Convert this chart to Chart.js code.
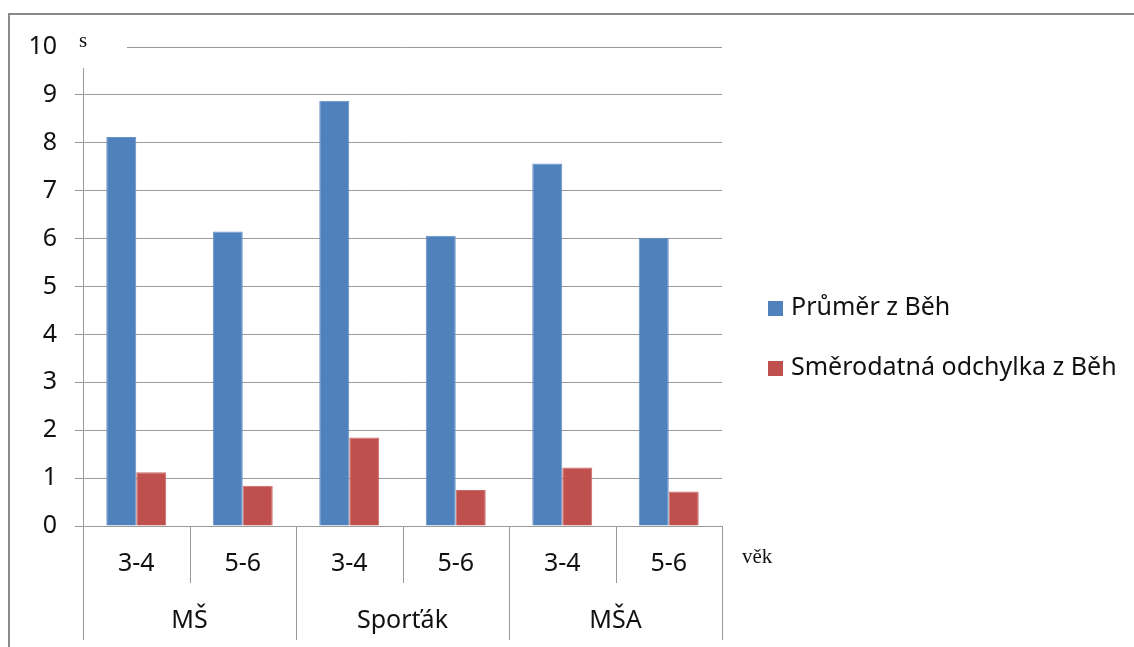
<!DOCTYPE html>
<html lang="cs">
<head>
<meta charset="utf-8">
<title>Běh – průměr a směrodatná odchylka</title>
<script src="https://cdn.jsdelivr.net/npm/chart.js@4/dist/chart.umd.min.js"></script>
<style>
  html, body { margin: 0; padding: 0; background: #fff; }
  #wrap { width: 1134px; height: 647px; position: relative; }
</style>
</head>
<body>
<div id="wrap"><canvas id="c" width="1134" height="647"></canvas></div>
<script>
// age groups (inner axis row) and schools (outer axis row)
const ageLabels = ['3-4', '5-6', '3-4', '5-6', '3-4', '5-6'];
const schoolLabels = ['MŠ', 'Sporťák', 'MŠA'];
// seconds
const prumer = [8.12, 6.15, 8.88, 6.06, 7.57, 6.02];
const odchylka = [1.12, 0.84, 1.85, 0.75, 1.22, 0.72];
const yTicks = [0, 1, 2, 3, 4, 5, 6, 7, 8, 9, 10];
const seriesNames = ['Průměr z Běh', 'Směrodatná odchylka z Běh'];
const unitLabel = 's';
const axisLabel = 'věk';

const SANS = '"Noto Sans", "Open Sans", sans-serif';
const SERIF = '"Liberation Serif", "DejaVu Serif", serif';
const GRID = '#9a9a9a';
const FRAME = '#8a8a8a';

// frame, two-row category axis, unit labels and legend
const decor = {
  id: 'decor',
  beforeDraw(chart) {
    const ctx = chart.ctx;
    ctx.save();
    ctx.fillStyle = '#fff';
    ctx.fillRect(0, 0, chart.width, chart.height);
    ctx.restore();
  },
  afterDraw(chart) {
    const ctx = chart.ctx;
    const x = chart.scales.x, y = chart.scales.y;
    const area = chart.chartArea;
    const base = y.getPixelForValue(0);
    const n = ageLabels.length;
    const half = (x.getPixelForValue(1) - x.getPixelForValue(0)) / 2;
    const edge = i => x.getPixelForValue(i) - half; // left edge of category i
    ctx.save();

    // gap around the unit label at the top of the value axis
    ctx.fillStyle = '#fff';
    ctx.fillRect(area.left - 10, y.getPixelForValue(10) - 6, 54, 27);

    ctx.strokeStyle = GRID;
    ctx.lineWidth = 1;
    ctx.beginPath();
    // value axis line running down through both label rows
    ctx.moveTo(Math.round(area.left) + 0.5, y.getPixelForValue(10) + 21);
    ctx.lineTo(Math.round(area.left) + 0.5, 640);
    for (let i = 1; i <= n; i++) {
      const px = Math.round(edge(i)) + 0.5;
      const bottom = (i % 2 === 0) ? 640 : 583;
      ctx.moveTo(px, base);
      ctx.lineTo(px, bottom);
    }
    ctx.stroke();

    // school names centred under each pair of age groups
    ctx.fillStyle = '#111';
    ctx.font = '25px ' + SANS;
    ctx.textAlign = 'center';
    ctx.textBaseline = 'middle';
    schoolLabels.forEach((s, g) => {
      const cx = (x.getPixelForValue(2 * g) + x.getPixelForValue(2 * g + 1)) / 2;
      ctx.fillText(s, cx, 621);
    });

    // unit labels
    ctx.font = '21px ' + SERIF;
    ctx.textAlign = 'left';
    ctx.fillText(unitLabel, area.left - 4, y.getPixelForValue(10) - 6);
    ctx.fillText(axisLabel, area.right + 20, 557);

    // legend
    ctx.font = '25px ' + SANS;
    chart.data.datasets.forEach((ds, i) => {
      const cy = 308 + i * 60;
      ctx.fillStyle = ds.backgroundColor;
      ctx.fillRect(768, cy - 7, 15, 15);
      ctx.fillStyle = '#111';
      ctx.fillText(ds.label, 791, cy);
    });

    // outer frame
    ctx.strokeStyle = FRAME;
    ctx.lineWidth = 2;
    ctx.beginPath();
    ctx.moveTo(9, chart.height + 2);
    ctx.lineTo(9, 14);
    ctx.lineTo(chart.width + 2, 14);
    ctx.stroke();
    ctx.restore();
  }
};

new Chart(document.getElementById('c'), {
  type: 'bar',
  data: {
    labels: ageLabels,
    datasets: [
      { label: seriesNames[0], data: prumer, backgroundColor: '#4F81BD', borderColor: '#6990C6', borderWidth: 1 },
      { label: seriesNames[1], data: odchylka, backgroundColor: '#C0504D', borderColor: '#C86A67', borderWidth: 1 }
    ]
  },
  options: {
    responsive: false,
    animation: false,
    devicePixelRatio: 1,
    layout: { padding: { left: 0, top: 47, right: 412, bottom: 0 } },
    datasets: { bar: { categoryPercentage: 0.563, barPercentage: 1 } },
    plugins: {
      legend: { display: false },
      tooltip: { enabled: false }
    },
    scales: {
      x: {
        grid: { display: false, drawTicks: false },
        border: { display: false },
        ticks: { color: '#111', font: { family: SANS, size: 25 }, padding: 23, maxRotation: 0, autoSkip: false },
        afterFit(scale) { scale.height = 121; }
      },
      y: {
        min: 0, max: 10,
        afterBuildTicks(scale) { scale.ticks = yTicks.map(v => ({ value: v })); },
        grid: { color: GRID, lineWidth: 1, tickLength: 8, drawTicks: true },
        border: { display: false },
        ticks: { color: '#111', font: { family: SANS, size: 25 }, padding: 18 },
        afterFit(scale) { scale.width = 83; }
      }
    }
  },
  plugins: [decor]
});
</script>
</body>
</html>
